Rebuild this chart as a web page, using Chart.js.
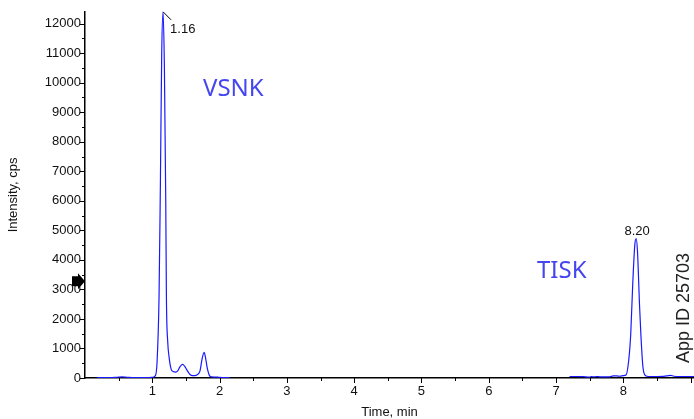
<!DOCTYPE html>
<html>
<head>
<meta charset="utf-8">
<script src="https://cdn.jsdelivr.net/npm/chart.js@4.4.1/dist/chart.umd.min.js"></script>
<style>
  body { margin: 0; background: #fff; }
  canvas { display: block; }
</style>
</head>
<body>
<canvas id="xicChart" width="694" height="419"></canvas>
<script>
// early window (VSNK)
const timeA = [0.18, 0.25, 0.30, 0.35, 0.40, 0.45, 0.50, 0.55, 0.60, 0.65, 0.70, 0.75, 0.80, 0.85, 0.90, 0.95, 1.00,
  1.04, 1.07, 1.10, 1.12, 1.14, 1.16, 1.18, 1.20, 1.21, 1.23, 1.25, 1.28, 1.31, 1.35, 1.38, 1.41, 1.45, 1.48,
  1.52, 1.56, 1.60, 1.65, 1.68, 1.71, 1.74, 1.77, 1.79, 1.82, 1.85, 1.88, 1.92, 1.97, 2.00, 2.05, 2.10, 2.15];
const intensityA = [15, 15, 12, 15, 14, 18, 30, 40, 30, 18, 14, 15, 12, 15, 14, 15, 20,
  60, 500, 2700, 6500, 11000, 12400, 10500, 6000, 2700, 1200, 700, 300, 220, 200, 250, 380, 460, 400,
  250, 120, 80, 90, 130, 250, 650, 870, 700, 300, 80, 35, 30, 30, 20, 15, 12, 10];

// late window (TISK)
const timeB = [7.20, 7.30, 7.40, 7.50, 7.53, 7.56, 7.60, 7.65, 7.70, 7.80, 7.85, 7.90, 7.95, 8.00,
  8.04, 8.08, 8.11, 8.14, 8.17, 8.19, 8.21, 8.24, 8.26, 8.29, 8.32, 8.35, 8.40, 8.50, 8.60, 8.70, 8.75, 8.85, 8.95, 9.05];
const intensityB = [50, 50, 45, 30, 50, 35, 50, 40, 35, 40, 70, 70, 60, 80,
  100, 600, 1500, 3200, 4500, 4720, 4300, 2500, 1500, 400, 100, 60, 50, 50, 55, 90, 60, 50, 50, 50];

const yTicks = [0, 1000, 2000, 3000, 4000, 5000, 6000, 7000, 8000, 9000, 10000, 11000, 12000];
const xTicks = [1, 2, 3, 4, 5, 6, 7, 8];
const peakLabels = [{ t: 1.16, v: 12400, text: "1.16" }, { t: 8.19, v: 4720, text: "8.20" }];
const arrowLevel = 3280;

const traceColor = "rgb(25,25,255)";

const toPoints = (ts, vs) => ts.map((t, i) => ({ x: t, y: vs[i] }));

const decorations = {
  id: "decorations",
  afterDraw(chart) {
    const { ctx, chartArea: area, scales: { x, y } } = chart;
    ctx.save();
    ctx.strokeStyle = "#000";
    ctx.lineWidth = 1;

    // minor + major ticks
    for (let v = 0; v <= 12000; v += 500) {
      const py = Math.round(y.getPixelForValue(v)) + 0.5;
      const len = v % 1000 === 0 ? 5 : 3;
      ctx.beginPath(); ctx.moveTo(area.left - len, py); ctx.lineTo(area.left, py); ctx.stroke();
    }
    for (let t = 0.5; t <= 9; t += 0.5) {
      const px = Math.round(x.getPixelForValue(t)) + 0.5;
      const len = t % 1 === 0 ? 5 : 3;
      ctx.beginPath(); ctx.moveTo(px, area.bottom); ctx.lineTo(px, area.bottom + len); ctx.stroke();
    }

    // peak apex labels
    ctx.fillStyle = "#111";
    ctx.font = "13px 'Liberation Sans', Arial, sans-serif";
    const p1 = peakLabels[0];
    const ax = x.getPixelForValue(p1.t), ay = y.getPixelForValue(p1.v);
    ctx.beginPath(); ctx.moveTo(ax, ay); ctx.lineTo(ax + 8, ay + 8); ctx.stroke();
    ctx.textAlign = "left"; ctx.textBaseline = "middle";
    ctx.fillText(p1.text, ax + 7, ay + 18);
    const p2 = peakLabels[1];
    ctx.textAlign = "center"; ctx.textBaseline = "bottom";
    ctx.fillText(p2.text, x.getPixelForValue(p2.t) + 1, y.getPixelForValue(p2.v) - 1);

    // compound names
    ctx.fillStyle = "rgb(70,70,240)";
    ctx.font = "24px 'Noto Sans', 'Open Sans', sans-serif";
    ctx.textAlign = "left"; ctx.textBaseline = "alphabetic";
    ctx.fillText("VSNK", 203, 96);
    ctx.fillText("TISK", 537, 278);

    // app id
    ctx.fillStyle = "#222";
    ctx.font = "18px 'Liberation Sans', Arial, sans-serif";
    ctx.translate(684, 308);
    ctx.rotate(-Math.PI / 2);
    ctx.textAlign = "center"; ctx.textBaseline = "middle";
    ctx.fillText("App ID 25703", 0, 0);
    ctx.setTransform(1, 0, 0, 1, 0, 0);

    // threshold arrow on the y axis
    const my = y.getPixelForValue(arrowLevel);
    ctx.fillStyle = "#000";
    ctx.beginPath();
    ctx.moveTo(72, my - 5);
    ctx.lineTo(78, my - 5);
    ctx.lineTo(78, my - 8);
    ctx.lineTo(85, my);
    ctx.lineTo(78, my + 8);
    ctx.lineTo(78, my + 5);
    ctx.lineTo(72, my + 5);
    ctx.closePath();
    ctx.fill();
    ctx.restore();
  }
};

const renderChart = () => {
  const lineStyle = {
    borderColor: traceColor,
    borderWidth: 1.2,
    pointRadius: 0,
    tension: 0.3,
    cubicInterpolationMode: "monotone",
    fill: false,
  };
  const data = {
    datasets: [
      { label: "VSNK", data: toPoints(timeA, intensityA), ...lineStyle },
      { label: "TISK", data: toPoints(timeB, intensityB), ...lineStyle },
    ],
  };
  const tickFont = { family: "'Liberation Sans', Arial, sans-serif", size: 13 };
  const options = {
    responsive: false,
    animation: false,
    layout: { padding: { top: 11, left: 0, right: 0, bottom: 0 } },
    plugins: { legend: { display: false }, tooltip: { enabled: false } },
    scales: {
      x: {
        type: "linear",
        min: 0,
        max: 9.05,
        afterBuildTicks: (s) => { s.ticks = xTicks.map(v => ({ value: v })); },
        afterFit: (s) => { s.height = 41; },
        grid: { display: false, drawTicks: false },
        border: { display: true, color: "#000", width: 1.5 },
        ticks: { color: "#111", font: tickFont, padding: 6, maxRotation: 0, callback: (v) => String(v) },
        title: {
          display: true, text: "Time, min", color: "#111",
          font: { family: "'Liberation Sans', Arial, sans-serif", size: 13, lineHeight: 1 },
          padding: { top: 0, bottom: 0 },
        },
      },
      y: {
        min: 0,
        max: 12400,
        afterBuildTicks: (s) => { s.ticks = yTicks.map(v => ({ value: v })); },
        afterFit: (s) => { s.width = 85; },
        grid: { display: false, drawTicks: false },
        border: { display: true, color: "#000", width: 1.5 },
        ticks: { color: "#111", font: tickFont, padding: 4, callback: (v) => String(v) },
        title: {
          display: true, text: "Intensity, cps", color: "#111",
          font: { family: "'Liberation Sans', Arial, sans-serif", size: 13, lineHeight: 1 },
          padding: { top: 7, bottom: 0 },
        },
      },
    },
  };
  new Chart("xicChart", { type: "line", data, options, plugins: [decorations] });
};

renderChart();
</script>
</body>
</html>
